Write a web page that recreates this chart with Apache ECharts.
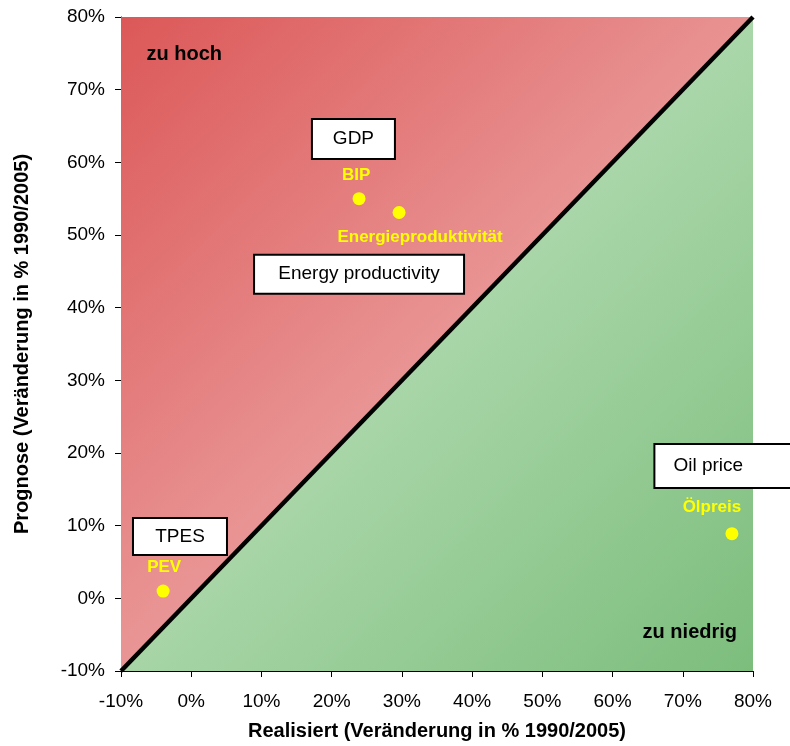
<!DOCTYPE html>
<html>
<head>
<meta charset="utf-8">
<script src="https://cdn.jsdelivr.net/npm/echarts@6/dist/echarts.min.js"></script>
<style>
  html, body { margin: 0; padding: 0; background: #fff; }
  #chart { width: 790px; height: 746px; }
</style>
</head>
<body>
<div id="chart"></div>
<script>
// Axis range and ticks (percent change 1990/2005)
const axisMin = -10;
const axisMax = 80;
const tickStep = 10;

// Forecast vs. realised change for each indicator
const indicatorNames = ['BIP', 'Energieproduktivität', 'PEV', 'Ölpreis'];
const realisedValues = [23.9, 29.6, -4.0, 77.0];
const forecastValues = [55.0, 53.1, 1.0, 8.9];

// English captions, placed in data coordinates
const captionTexts = ['GDP', 'Energy productivity', 'TPES', 'Oil price'];
const captionX = [23.1, 23.9, -1.6, 66.1];
const captionY = [63.2, 44.6, 8.5, 18.2];

// Region captions
const regionTexts = ['zu hoch', 'zu niedrig'];
const regionX = [-1.0, 71.0];
const regionY = [74.8, -4.7];

const FONT = "'Liberation Sans', Arial, Helvetica, sans-serif";

// label offsets [dx, dy] per indicator
const pointLabelOffsets = [[-3, -23], [21, 25], [1, -24], [-20, -26]];
// caption box geometry (content width, height, alignment, padding)
const captionBoxes = [
  { width: 81, height: 38, align: 'center', padding: [0, 0, 0, 0] },
  { width: 208, height: 37, align: 'center', padding: [0, 0, 0, 0] },
  { width: 92, height: 35, align: 'center', padding: [0, 0, 0, 0] },
  { width: 140, height: 42, align: 'left', padding: [0, 0, 0, 18] }
];

const chart = echarts.init(document.getElementById('chart'), null, { renderer: 'canvas' });

// Two triangular regions split by the diagonal y = x
const regions = [
  { name: 'above', pts: [[axisMin, axisMin], [axisMin, axisMax], [axisMax, axisMax]],
    stops: [[0, '#dc5858'], [0.5, '#e99494'], [1, '#f0b0b0']] },
  { name: 'below', pts: [[axisMin, axisMin], [axisMax, axisMax], [axisMax, axisMin]],
    stops: [[0, '#c8e6c8'], [0.5, '#a9d6a8'], [1, '#7cbd7c']] }
];

const pctFmt = v => v + '%';

const option = {
  animation: false,
  grid: { left: 121, right: 37, top: 17, bottom: 75 },
  xAxis: {
    type: 'value', min: axisMin, max: axisMax, interval: tickStep,
    name: 'Realisiert (Veränderung in % 1990/2005)',
    nameLocation: 'middle', nameGap: 50,
    nameTextStyle: { fontFamily: FONT, fontWeight: 'bold', fontSize: 20, color: '#000' },
    axisLine: { show: true, onZero: false, lineStyle: { color: '#000', width: 1 } },
    axisTick: { show: true, inside: false, length: 6, lineStyle: { color: '#000' } },
    axisLabel: { formatter: pctFmt, fontFamily: FONT, fontSize: 19, color: '#000', margin: 21 },
    splitLine: { show: false }
  },
  yAxis: {
    type: 'value', min: axisMin, max: axisMax, interval: tickStep,
    name: 'Prognose (Veränderung in % 1990/2005)',
    nameLocation: 'middle', nameGap: 89, nameRotate: 90,
    nameTextStyle: { fontFamily: FONT, fontWeight: 'bold', fontSize: 20, color: '#000' },
    axisLine: { show: true, onZero: false, lineStyle: { color: '#000', width: 1 } },
    axisTick: { show: true, inside: false, length: 6, lineStyle: { color: '#000' } },
    axisLabel: { formatter: pctFmt, fontFamily: FONT, fontSize: 19, color: '#000', margin: 16 },
    splitLine: { show: false }
  },
  series: [
    {
      type: 'custom',
      silent: true,
      z: 1,
      data: regions.map((r, i) => [i]),
      renderItem: (params, api) => {
        const r = regions[params.dataIndex];
        const points = r.pts.map(p => api.coord(p));
        return {
          type: 'polygon',
          shape: { points },
          style: {
            fill: new echarts.graphic.LinearGradient(0, 0, 1, 1,
              r.stops.map(s => ({ offset: s[0], color: s[1] })))
          }
        };
      }
    },
    {
      type: 'line',
      silent: true,
      z: 3,
      symbol: 'none',
      data: [[axisMin, axisMin], [axisMax, axisMax]],
      lineStyle: { color: '#000', width: 4.5 }
    },
    {
      type: 'scatter',
      z: 5,
      symbolSize: 13,
      itemStyle: { color: '#ffff00', opacity: 1 },
      data: indicatorNames.map((n, i) => ({
        value: [realisedValues[i], forecastValues[i]],
        name: n,
        label: {
          show: true,
          formatter: n,
          position: 'inside',
          offset: pointLabelOffsets[i],
          opacity: 1,
          fontFamily: FONT, fontWeight: 'bold', fontSize: 17, color: '#ffff00'
        }
      }))
    },
    {
      type: 'scatter',
      z: 6,
      symbolSize: 0,
      silent: true,
      itemStyle: { opacity: 1 },
      data: captionTexts.map((t, i) => ({
        value: [captionX[i], captionY[i]],
        label: {
          show: true,
          formatter: t,
          position: 'inside',
          align: captionBoxes[i].align,
          verticalAlign: 'middle',
          width: captionBoxes[i].width,
          height: captionBoxes[i].height,
          lineHeight: captionBoxes[i].height,
          padding: captionBoxes[i].padding,
          backgroundColor: '#ffffff',
          borderColor: '#000',
          borderWidth: 2,
          opacity: 1,
          fontFamily: FONT, fontSize: 19, color: '#000'
        }
      }))
    },
    {
      type: 'scatter',
      z: 6,
      symbolSize: 0,
      silent: true,
      itemStyle: { opacity: 1 },
      data: regionTexts.map((t, i) => ({
        value: [regionX[i], regionY[i]],
        label: {
          show: true,
          formatter: t,
          position: 'inside',
          opacity: 1,
          fontFamily: FONT, fontWeight: 'bold', fontSize: 20, color: '#000'
        }
      }))
    }
  ]
};

chart.setOption(option);
</script>
</body>
</html>
